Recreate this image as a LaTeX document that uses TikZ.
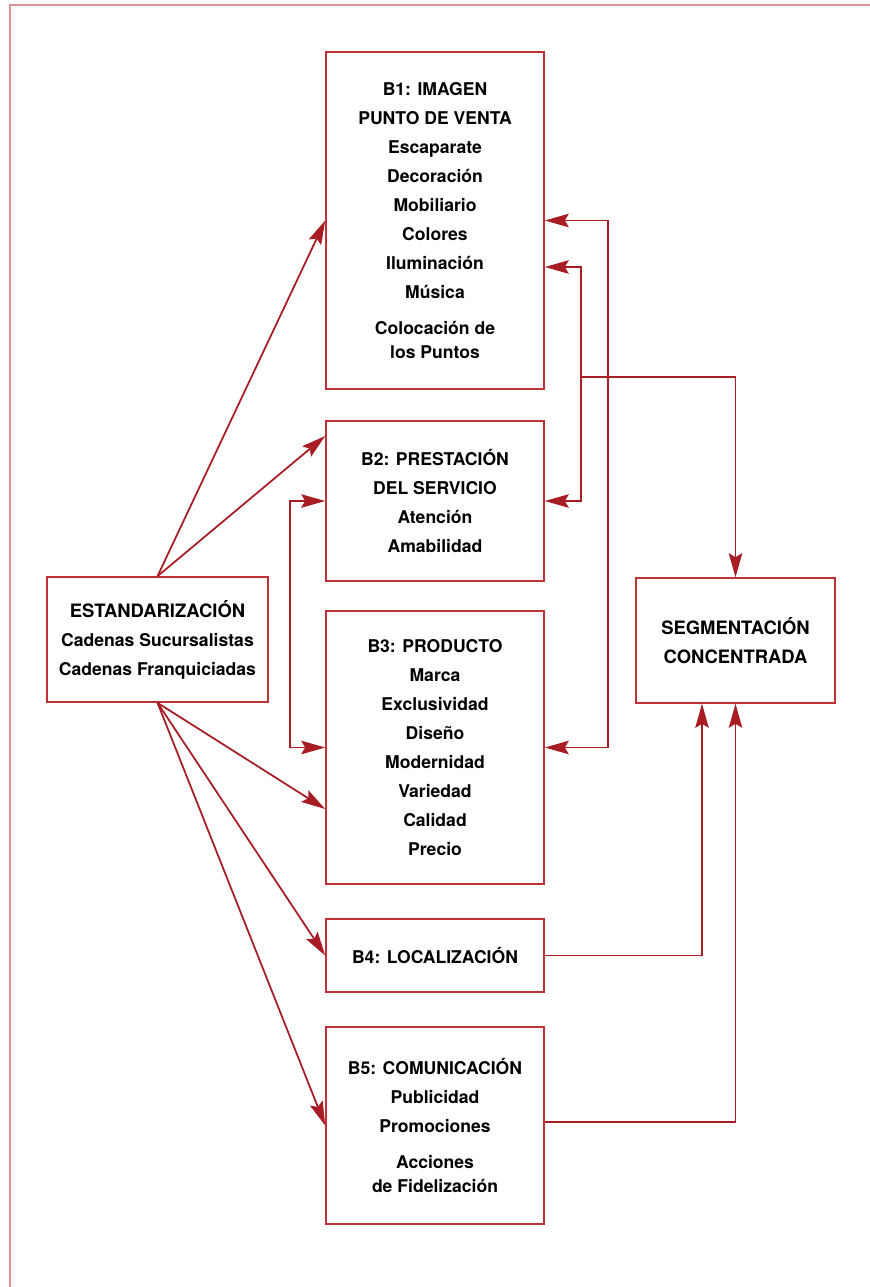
\documentclass[tikz,border=0pt]{standalone}
\usepackage{fontspec}
\setmainfont{TeX Gyre Heros}
\usepackage{tikz}
\usetikzlibrary{arrows.meta}
\usepackage{xcolor}

\definecolor{granate}{RGB}{168,28,36}
\definecolor{rojocaja}{RGB}{192,48,55}
\definecolor{rosamarco}{RGB}{222,145,150}

\tikzset{
  caja/.style={draw=rojocaja, line width=0.9pt, inner sep=0pt, align=center,
    minimum width=43.6mm, font=\fontsize{10}{16.5}\selectfont\bfseries},
  cajagrande/.style={caja, font=\fontsize{10.5}{16.5}\selectfont\bfseries},
  flecha/.style={draw=granate, line width=1pt,
    -{Stealth[length=4.8mm,width=2.7mm,inset=0.8mm]}},
  dobleflecha/.style={flecha,
    {Stealth[length=4.8mm,width=2.7mm,inset=0.8mm]}-{Stealth[length=4.8mm,width=2.7mm,inset=0.8mm]}}
}

\begin{document}
\begin{tikzpicture}[x=0.2mm,y=-0.2mm]
\useasboundingbox (0,0) rectangle (870,1287);

% marco de la figura
\draw[rosamarco, line width=1.4pt] (10,1287) -- (10,5) -- (870,5);

% bloques
\node[caja, minimum height=67.4mm] (b1) at (435,220.5)
  {B1: IMAGEN\\ PUNTO DE VENTA\\ Escaparate\\ Decoración\\ Mobiliario\\ Colores\\ Iluminación\\ Música\\[1.5mm] Colocación de\\[-1mm] los Puntos};
\node[caja, minimum height=32mm] (b2) at (435,501)
  {B2: PRESTACIÓN\\ DEL SERVICIO\\ Atención\\ Amabilidad};
\node[caja, minimum height=54.6mm] (b3) at (435,747.5)
  {B3: PRODUCTO\\ Marca\\ Exclusividad\\ Diseño\\ Modernidad\\ Variedad\\ Calidad\\ Precio};
\node[caja, minimum height=14.6mm] (b4) at (435,955.5) {B4: LOCALIZACIÓN};
\node[caja, minimum height=39.4mm] (b5) at (435,1125.5)
  {B5: COMUNICACIÓN\\ Publicidad\\ Promociones\\[1.5mm] Acciones\\[-1mm] de Fidelización};

\node[caja, minimum width=44.2mm, minimum height=25mm] (est) at (157.5,639.5)
  {{\fontsize{10.5}{16.5}\selectfont ESTANDARIZACIÓN}\\ Cadenas Sucursalistas\\ Cadenas Franquiciadas};
\node[cajagrande, minimum width=39.8mm, minimum height=25mm] (seg) at (735.5,640.5)
  {SEGMENTACIÓN\\ CONCENTRADA};

% desde estandarizacion
\draw[flecha] (est.north) -- (b1.west);
\draw[flecha] (est.north) -- ([yshift=13mm]b2.west);
\draw[flecha] (est.south) -- ([yshift=-12.3mm]b3.west);
\draw[flecha] (est.south) -- (b4.west);
\draw[flecha] (est.south) -- (b5.west);

% relaciones entre bloques
\draw[dobleflecha] (b2.west) -- ++(-35,0) |- (b3.west);
\draw[dobleflecha] (b1.east) -- ++(63,0) |- (b3.east);
\draw[dobleflecha] ([yshift=-9.3mm]b1.east) -- ++(36,0) |- (b2.east);

% hacia segmentacion
\coordinate (ramal) at (580,377);
\draw[flecha] (ramal) -| (seg.north);
\draw[flecha] (b4.east) -| ([xshift=-6.7mm]seg.south);
\draw[flecha] ([yshift=0.7mm]b5.east) -| (seg.south);
\end{tikzpicture}
\end{document}
